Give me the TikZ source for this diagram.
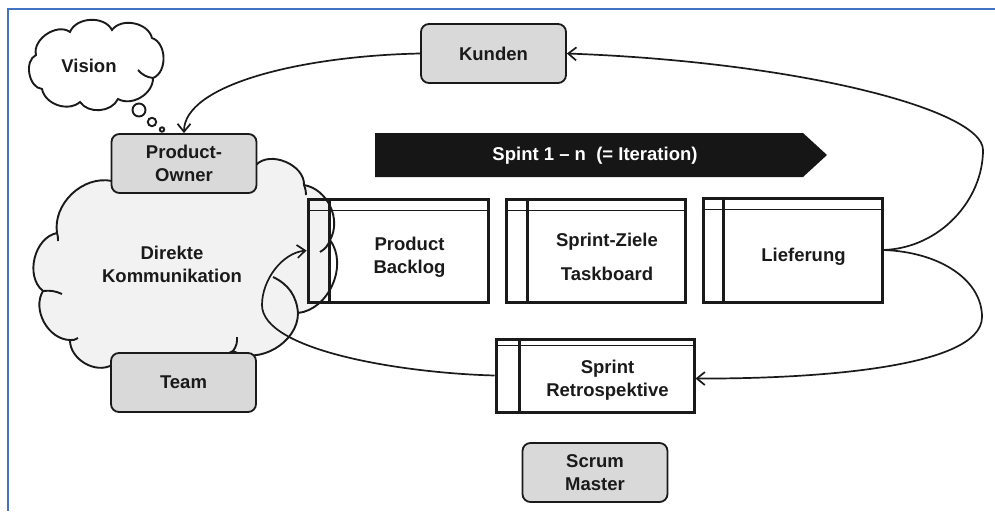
\documentclass[tikz,border=0pt]{standalone}
\usepackage{fontspec}
\setmainfont{Liberation Sans}
\usetikzlibrary{arrows.meta}
\definecolor{frameblue}{HTML}{4472C4}
\definecolor{boxgray}{HTML}{D9D9D9}
\definecolor{cloudgray}{HTML}{F2F2F2}
\definecolor{ink}{HTML}{1A1A1A}
\definecolor{bannercol}{HTML}{161616}
\newcommand{\bigcloudpath}{(112,181) to[bend left=20] (256,165) to[bend left=70] (304,185) to[bend left=55] (330,240) to[bend left=60] (298,313) to[bend left=60] (233,351) to[bend left=20] (112,365) to[bend left=60] (70,340) to[bend left=60] (43,291) to[bend left=65] (57,233) to[bend left=55] (112,181) -- cycle}
\newcommand{\visioncloudpath}{(36,55) to[bend left=70] (70,32) to[bend left=65] (112,30) to[bend left=65] (152,38) to[bend left=70] (153,78) to[bend left=60] (118,99) to[bend left=60] (80,102) to[bend left=60] (42,89) to[bend left=75] (36,55) -- cycle}
\begin{document}
\begin{tikzpicture}[x=1pt,y=-1pt,
  txt/.style={font=\fontsize{18.5}{23}\selectfont\bfseries, text=ink, align=center, inner sep=0pt},
  gbox/.style={txt, draw=ink, fill=boxgray, line width=1.8pt, rounded corners=8pt, minimum width=145pt, minimum height=59pt},
  sbox/.style={draw=ink, line width=3pt, inner sep=0pt},
  cl/.style={draw=ink, line width=1.9pt},
  conn/.style={draw=ink, line width=1.7pt, -{Straight Barb[length=8pt,width=13pt]}},
  hdr/.style={draw=ink, line width=1.8pt},
  col/.style={draw=ink, line width=3pt},
]
\useasboundingbox (0,0) rectangle (995,511);
\fill[white] (0,0) rectangle (995,511);
% frame
\draw[frameblue, line width=2pt] (995,9) -- (8,9) -- (8,511);

% big cloud
\fill[cloudgray] \bigcloudpath;
\fill[white] (331,212) rectangle (488,302);
\draw[cl] \bigcloudpath;
\draw[cl] (330,240) to[bend left=20] (320,252);
\draw[cl] (304,185) to[bend left=10] (306,195);
\draw[cl] (233,351) to[bend right=20] (237,337);
\draw[cl] (70,340) to[bend right=20] (78,338);
\draw[cl] (43,291) to[bend left=15] (62,294);
\draw[cl] (57,233) to[bend left=10] (58,241);
\draw[cl] (273,277) to[bend left=30] (298,313);
\node[txt] (komm) at (172,264) {Direkte\\Kommunikation};

% vision cloud
\fill[white] \visioncloudpath;
\draw[cl] \visioncloudpath;
\draw[cl] (153,78) to[bend left=20] (138,70);
\node[txt] (vision) at (89,66) {Vision};
\draw[cl, fill=white] (139,110) circle (6.5);
\draw[cl, fill=white] (152,122) circle (4.2);
\draw[cl, fill=white] (162,129.5) circle (2.2);

% rounded gray boxes
\node[gbox] (po) at (184,163.5) {Product-\\Owner};
\node[gbox] (team) at (183.5,382.5) {Team};
\node[gbox] (kunden) at (493.5,53.5) {Kunden};
\node[gbox] (scrum) at (595,472.5) {Scrum\\Master};

% banner
\fill[bannercol] (375,133) -- (803,133) -- (827,155) -- (803,177) -- (375,177) -- cycle;
\node[txt, text=white] (ban) at (595,156) {Spint 1 -- n\ \ (= Iteration)};

% sprint boxes
\node[sbox, minimum width=180pt, minimum height=103pt] (pb) at (398,250.5) {};
\draw[col] ([xshift=23pt]pb.north west) -- ([xshift=23pt]pb.south west);
\draw[hdr] ([yshift=-13pt]pb.north west) -- ([yshift=-13pt]pb.north east);
\node[txt] (pbt) at (409.5,257) {Product\\Backlog};

\node[sbox, minimum width=179pt, minimum height=103pt] (sz) at (595.5,250.5) {};
\draw[col] ([xshift=23pt]sz.north west) -- ([xshift=23pt]sz.south west);
\draw[hdr] ([yshift=-13pt]sz.north west) -- ([yshift=-13pt]sz.north east);
\node[txt] (szt) at (607,257) {Sprint-Ziele\\[11pt]Taskboard};

\node[sbox, minimum width=179pt, minimum height=104pt] (lief) at (792.5,250) {};
\draw[col] ([xshift=22pt]lief.north west) -- ([xshift=22pt]lief.south west);
\draw[hdr] ([yshift=-13pt]lief.north west) -- ([yshift=-13pt]lief.north east);
\node[txt] (lieft) at (803.5,257) {Lieferung};

\node[sbox, minimum width=198pt, minimum height=73pt] (retro) at (595,375.5) {};
\draw[col] ([xshift=25pt]retro.north west) -- ([xshift=25pt]retro.south west);
\draw[hdr] ([yshift=-8pt]retro.north west) -- ([yshift=-8pt]retro.north east);
\node[txt] (retrot) at (607.5,380) {Sprint\\Retrospektive};

% connectors
\coordinate (k1) at (983,150);
\coordinate (k2) at (982,317);
\coordinate (k3) at (262,305);
\draw[conn] (kunden.west) .. controls (300,56) and (184,85) .. (po.north);
\draw[conn] (lief.east) .. controls (940,248) and (983,200) .. (k1) .. controls (983,110) and (800,62) .. (kunden.east);
\draw[conn] (lief.east) .. controls (940,252) and (982,280) .. (k2) .. controls (982,370) and (800,379) .. ([yshift=-3pt]retro.east);
\draw[conn] (retro.west) .. controls (400,373) and (262,350) .. (k3) .. controls (262,280) and (282,253) .. (pb.west);
\end{tikzpicture}
\end{document}
